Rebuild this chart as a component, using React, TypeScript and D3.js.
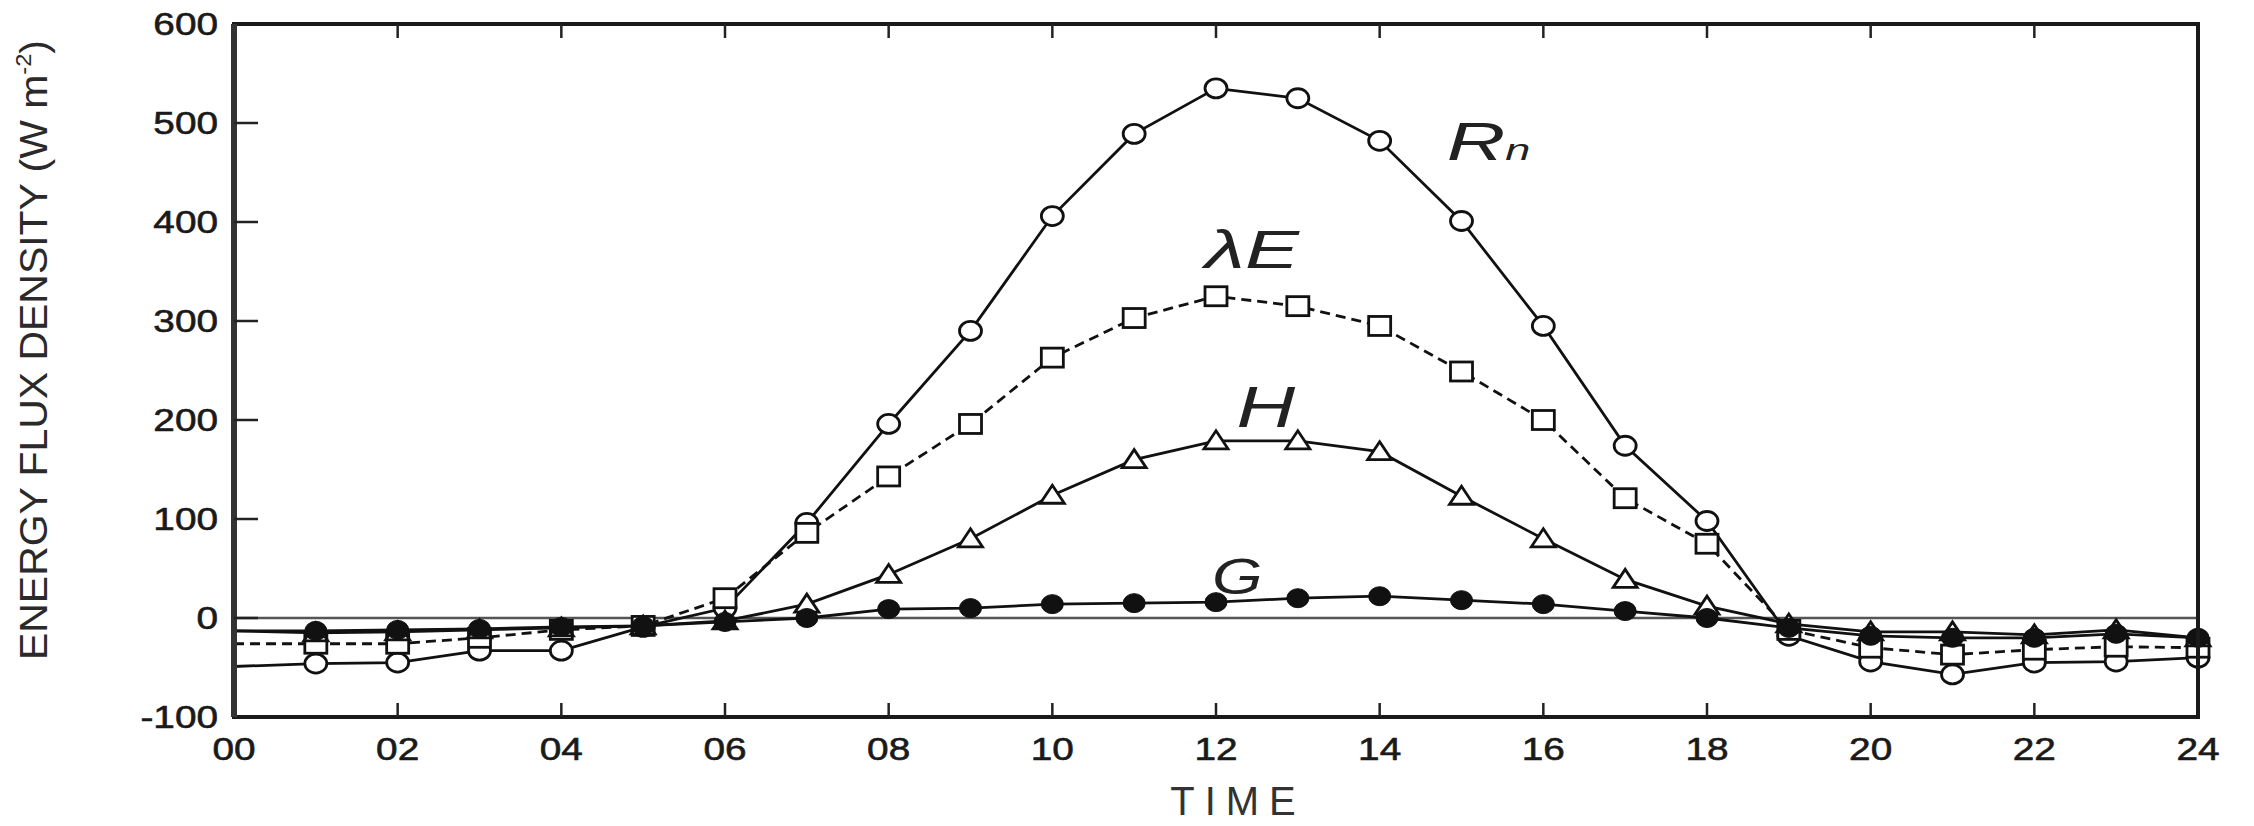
import React from "react";
import * as d3 from "d3";

// hours of the day (00 .. 24)
const hours = [0, 1, 2, 3, 4, 5, 6, 7, 8, 9, 10, 11, 12, 13, 14, 15, 16, 17, 18, 19, 20, 21, 22, 23, 24];

// energy flux density, W m-2
const rn = [-49, -46, -45, -33, -33, -9, 10, 96, 196, 290, 406, 489, 535, 525, 482, 401, 295, 174, 98, -18, -44, -57, -45, -44, -40];
const lambdaE = [-26, -26, -26, -20, -12, -8, 20, 86, 143, 196, 263, 303, 325, 315, 295, 249, 200, 121, 75, -12, -30, -37, -32, -29, -30];
const sensH = [-13, -15, -14, -12, -10, -8, -3, 14, 44, 80, 124, 160, 179, 179, 168, 123, 80, 39, 12, -6, -14, -14, -17, -12, -20];
const soilG = [-13, -13, -12, -11, -9, -8, -4, 0, 9, 10, 14, 15, 16, 20, 22, 18, 14, 7, 0, -10, -18, -20, -20, -16, -20];

const xTicks = [0, 2, 4, 6, 8, 10, 12, 14, 16, 18, 20, 22, 24];
const yTicks = [-100, 0, 100, 200, 300, 400, 500, 600];

const W = 2254;
const H = 826;
const margin = { left: 234, right: 56, top: 24, bottom: 109 };

const font = "'Liberation Sans', Arial, sans-serif";

type Marker = "circle" | "square" | "triangle" | "dot";

const series: { name: string; values: number[]; marker: Marker; dash?: string }[] = [
  { name: "Rn", values: rn, marker: "circle" },
  { name: "lambdaE", values: lambdaE, marker: "square", dash: "10,6" },
  { name: "H", values: sensH, marker: "triangle" },
  { name: "G", values: soilG, marker: "dot" },
];

function MarkerShape({ kind, cx, cy }: { kind: Marker; cx: number; cy: number }) {
  const sw = 2.8;
  if (kind === "circle")
    return <ellipse cx={cx} cy={cy} rx={11} ry={9.5} fill="#fff" stroke="#111" strokeWidth={sw} />;
  if (kind === "square")
    return <rect x={cx - 11} y={cy - 9.5} width={22} height={19} fill="#fff" stroke="#111" strokeWidth={sw} />;
  if (kind === "triangle")
    return (
      <path d={`M${cx},${cy - 10}L${cx + 12},${cy + 8}L${cx - 12},${cy + 8}Z`} fill="#fff" stroke="#111" strokeWidth={sw} />
    );
  return <ellipse cx={cx} cy={cy} rx={11} ry={9.5} fill="#111" stroke="#111" strokeWidth={1} />;
}

export default function App() {
  const x = d3.scaleLinear().domain([0, 24]).range([margin.left, W - margin.right]);
  const y = d3.scaleLinear().domain([-100, 600]).range([H - margin.bottom, margin.top]);

  const line = d3
    .line<number>()
    .x((_, i) => x(hours[i]))
    .y((d) => y(d));

  const x0 = x(0);
  const x1 = x(24);
  const yTop = y(600);
  const yBot = y(-100);

  return (
    <svg width={W} height={H} style={{ position: "fixed", left: 0, top: 0, background: "#fff" }} fontFamily={font}>
      <rect width={W} height={H} fill="#fff" />

      {/* zero line */}
      <line x1={x0} x2={x1} y1={y(0)} y2={y(0)} stroke="#555" strokeWidth={2.5} />

      {/* series */}
      {series.map((s) => (
        <g key={s.name}>
          <path d={line(s.values) || ""} fill="none" stroke="#111" strokeWidth={2.8} strokeDasharray={s.dash} />
          {s.values.map((v, i) =>
            hours[i] === 0 ? null : <MarkerShape key={i} kind={s.marker} cx={x(hours[i])} cy={y(v)} />
          )}
        </g>
      ))}

      {/* frame */}
      <rect x={x0} y={yTop} width={x1 - x0} height={yBot - yTop} fill="none" stroke="#1a1a1a" strokeWidth={4} />
      <line x1={x0} x2={x0} y1={yTop} y2={yBot} stroke="#333" strokeWidth={6} />

      {/* ticks */}
      {xTicks.slice(1, -1).map((t) => (
        <g key={t}>
          <line x1={x(t)} x2={x(t)} y1={yBot} y2={yBot - 14} stroke="#222" strokeWidth={2.5} />
          <line x1={x(t)} x2={x(t)} y1={yTop} y2={yTop + 14} stroke="#222" strokeWidth={2.5} />
        </g>
      ))}
      {yTicks.slice(1, -1).map((t) => (
        <line key={t} x1={x0} x2={x0 + 24} y1={y(t)} y2={y(t)} stroke="#222" strokeWidth={2.5} />
      ))}

      {/* tick labels */}
      {xTicks.map((t) => (
        <g key={t} transform={`translate(${x(t)}, ${yBot + 43}) scale(1.25, 1)`}>
          <text textAnchor="middle" fontSize={31} fill="#1a1a1a" stroke="#1a1a1a" strokeWidth={0.6}>
            {String(t).padStart(2, "0")}
          </text>
        </g>
      ))}
      {yTicks.map((t) => (
        <g key={t} transform={`translate(${x0 - 16}, ${y(t) + 11}) scale(1.25, 1)`}>
          <text textAnchor="end" fontSize={31} fill="#1a1a1a" stroke="#1a1a1a" strokeWidth={0.6}>
            {t}
          </text>
        </g>
      ))}

      {/* axis titles */}
      <text x={1238} y={815} textAnchor="middle" fontSize={40} letterSpacing={10} fill="#333">
        TIME
      </text>
      <text
        transform={`translate(47, 350) rotate(-90)`}
        textAnchor="middle"
        fontSize={38}
        fill="#2a2a2a"
        textLength={620}
        lengthAdjust="spacingAndGlyphs"
      >
        ENERGY FLUX DENSITY (W m
        <tspan fontSize={22} dy={-16}>-2</tspan>
        <tspan dy={16}>)</tspan>
      </text>

      {/* series labels */}
      <g transform={`translate(${x(14.82)}, ${y(463)}) scale(1.5, 1)`}>
        <text fontSize={54} fontStyle="italic" fill="#222">
          R<tspan fontSize={30}>n</tspan>
        </text>
      </g>
      <g transform={`translate(${x(12.44)}, ${y(354)}) scale(1.5, 1)`}>
        <text textAnchor="middle" fontSize={54} fontStyle="italic" fill="#222">
          λE
        </text>
      </g>
      <g transform={`translate(${x(12.61)}, ${y(193)}) scale(1.4, 1)`}>
        <text textAnchor="middle" fontSize={58} fontStyle="italic" fill="#222">
          H
        </text>
      </g>
      <g transform={`translate(${x(12.26)}, ${y(24)}) scale(1.3, 1)`}>
        <text textAnchor="middle" fontSize={50} fontStyle="italic" fill="#222">
          G
        </text>
      </g>
    </svg>
  );
}
